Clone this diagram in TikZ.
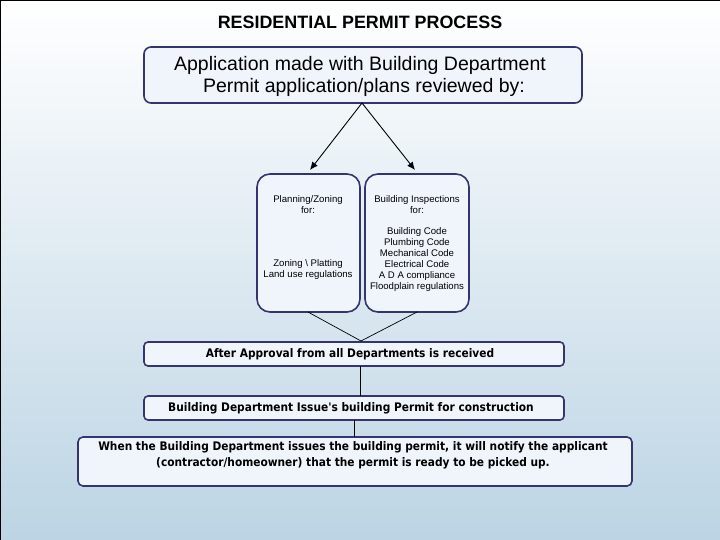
\documentclass[tikz,border=0pt]{standalone}
\usepackage{fontspec}
\setmainfont{Liberation Sans}
\newfontfamily\boxfont{DejaVu Sans Condensed}
\usetikzlibrary{arrows.meta}
\definecolor{navy}{RGB}{52,52,110}
\definecolor{boxfill}{RGB}{240,245,252}
\definecolor{bgbottom}{RGB}{188,212,228}
\tikzset{
  rbox/.style={draw=navy, line width=1.6pt, fill=boxfill, rounded corners=7pt, inner sep=0pt},
  tallbox/.style={draw=navy, line width=1.6pt, fill=boxfill, rounded corners=13pt, inner sep=0pt},
  conn/.style={draw=black, line width=0.7pt},
  arr/.style={conn, line width=0.9pt, -{Latex[length=8pt,width=7pt]}},
  smalltext/.style={font=\fontsize{9.6}{11}\selectfont, align=center},
  boldtext/.style={font=\boxfont\bfseries\fontsize{11.8}{16}\selectfont, align=center},
}
\begin{document}
\begin{tikzpicture}[x=1pt,y=-1pt]
\useasboundingbox (0,0) rectangle (720,540);
\shade[top color=white, bottom color=bgbottom] (0,0) rectangle (720,540);
\draw[black, line width=2pt] (0,540) -- (0,0) -- (720,0);

\node[font=\bfseries\fontsize{17.9}{21}\selectfont] (title) at (360,22) {RESIDENTIAL PERMIT PROCESS};

\node[rbox, minimum width=438pt, minimum height=56pt] (app) at (363,75) {};
\node[font=\fontsize{19.5}{22}\selectfont, align=center] (apptext) at (360,76)
  {Application made with Building Department\\ \hspace*{8pt}Permit application/plans reviewed by:};

\node[tallbox, minimum width=103pt, minimum height=138pt] (plan) at (308.5,243) {};
\node[tallbox, minimum width=104pt, minimum height=138pt] (bld) at (417,243) {};

\node[smalltext] (plantop) at (308,205) {Planning/Zoning\\for:};
\node[smalltext] (planbot) at (308,270) {Zoning \textbackslash\ Platting\\Land use regulations};
\node[smalltext] (bldtop) at (417,205) {Building Inspections\\for:};
\node[smalltext] (bldbot) at (417,259.5) {Building Code\\Plumbing Code\\Mechanical Code\\Electrical Code\\A D A  compliance\\Floodplain regulations};

\coordinate (split) at (362,103);
\draw[arr] (split) -- (310,170);
\draw[arr] (split) -- (415,170);

\node[rbox, rounded corners=4pt, minimum width=420pt, minimum height=24pt] (after) at (354,354) {};
\node[boldtext] (aftertext) at (350,354) {After Approval from all Departments is received};

\coordinate (join) at (361,341);
\draw[conn] (308,312) -- (join) -- (417,312);

\node[rbox, rounded corners=4pt, minimum width=420pt, minimum height=24pt] (issue) at (354,408) {};
\node[boldtext] (issuetext) at (351,408) {Building Department Issue's building Permit for construction};

\draw[conn] (360,366) -- (360,396);

\node[rbox, rounded corners=5pt, minimum width=554pt, minimum height=49pt] (notify) at (355,461.5) {};
\node[boldtext] (notifytext) at (353,455) {When the Building Department issues the building permit, it will notify the applicant\\(contractor/homeowner) that the permit is ready to be picked up.};

\draw[conn] (354,420) -- (354,437);
\end{tikzpicture}
\end{document}
